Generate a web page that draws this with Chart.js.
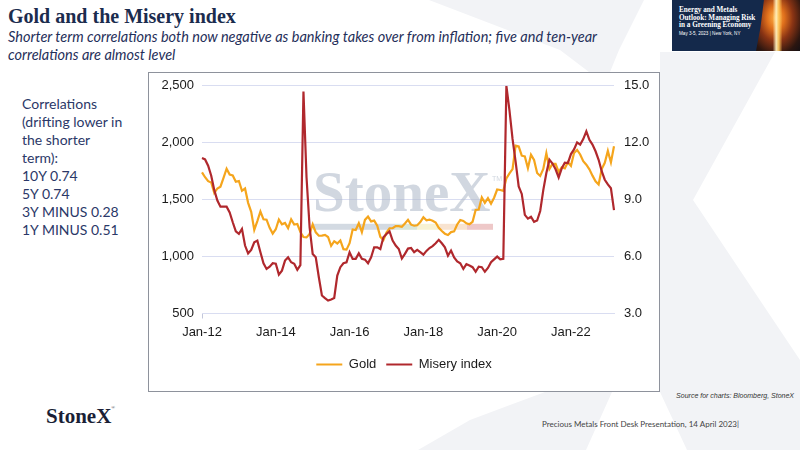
<!DOCTYPE html>
<html><head><meta charset="utf-8">
<script src="https://cdn.jsdelivr.net/npm/chart.js@4.4.0/dist/chart.umd.min.js"></script>
<style>
html,body{margin:0;padding:0;width:800px;height:450px;overflow:hidden;background:#fff;}
#slide{position:relative;width:800px;height:450px;overflow:hidden;}
#bgx{position:absolute;left:0;top:0;}
.abs{position:absolute;white-space:nowrap;}
#title{left:8px;top:5px;font-family:"Liberation Serif",serif;font-weight:bold;font-size:20px;color:#1b2c4e;}
#sub{left:8px;top:28px;font-family:Lato,"Open Sans",sans-serif;font-style:italic;font-size:14.5px;line-height:18px;color:#1f2f5a;white-space:normal;width:640px;}
#corr{left:22px;top:95px;font-family:Lato,"Open Sans",sans-serif;font-size:14px;line-height:18px;color:#2b3868;}
#box{position:absolute;left:148px;top:72px;width:510px;height:318px;border:1px solid #8e929c;background:#fff;}
#c{position:absolute;left:0;top:-5px;}
#navy{position:absolute;left:672px;top:0;width:128px;height:51px;background:#14294b;overflow:hidden;}
#navy .t{position:absolute;left:7px;font-family:"Liberation Serif",serif;font-weight:bold;color:#fff;font-size:7.2px;white-space:nowrap;}
#fire{position:absolute;left:84px;top:0;width:44px;height:51px;
  background:
    linear-gradient(90deg, rgba(255,236,170,0) 0%, rgba(255,236,170,0) 38%, rgba(255,240,190,0.95) 46%, rgba(255,200,90,0.9) 52%, rgba(255,236,170,0) 60%),
    radial-gradient(ellipse at 45% 35%, #ffb347 0%, #e0701c 25%, #8a3414 50%, #2c1610 80%, #141014 100%);
  clip-path: polygon(18% 0, 100% 0, 100% 100%, 0 100%, 10% 55%);}
#logo{left:46px;top:404px;font-family:"Liberation Serif",serif;font-weight:bold;font-size:21px;color:#1a1f36;}
#logo sup{font-size:5px;font-weight:normal;vertical-align:14px;}
#src{right:6px;top:392px;font-family:"Liberation Sans",Arial,sans-serif;font-style:italic;font-size:7px;color:#333;}
#foot{left:542px;top:419px;font-family:Lato,"Open Sans",sans-serif;font-size:8px;color:#444;}
</style></head>
<body>
<div id="slide">
<svg id="bgx" width="800" height="450">
  <g fill="#f2f3f6">
    <polygon points="429,0 644,0 619,50 610,72 589,72 560,50"/>
    <polygon points="660,52 775,52 693,200 800,360 800,450 687,450 660,392"/>
    <polygon points="418,450 586,450 612,392 545,392 470,420"/>
  </g>
</svg>
<div id="title" class="abs">Gold and the Misery index</div>
<div id="sub" class="abs">Shorter term correlations both now negative as banking takes over from inflation; five and ten-year correlations are almost level</div>
<div id="corr" class="abs">Correlations<br>(drifting lower in<br>the shorter<br>term):<br>10Y 0.74<br>5Y 0.74<br>3Y MINUS 0.28<br>1Y MINUS 0.51</div>
<div id="box"><canvas id="c" width="510" height="323"></canvas></div>
<div id="navy">
  <div class="t" style="top:6px">Energy and Metals</div>
  <div class="t" style="top:13.5px">Outlook: Managing Risk</div>
  <div class="t" style="top:21px">in a Greening Economy</div>
  <div class="t" style="top:31px;font-size:4.6px;font-weight:normal;font-family:'Liberation Sans',sans-serif">May 3-5, 2023 | New York, NY</div>
  <div id="fire"></div>
</div>
<div id="logo" class="abs">StoneX<sup>®</sup></div>
<div id="src" class="abs">Source for charts: Bloomberg, StoneX</div>
<div id="foot" class="abs">Precious Metals Front Desk Presentation, 14 April 2023|</div>
</div>
<script>
// ---- data (monthly, Jan-12 .. Mar-23) ----
const startYear = 2012;
const monthNames = ['Jan','Feb','Mar','Apr','May','Jun','Jul','Aug','Sep','Oct','Nov','Dec'];
const goldPrice = [
  1740,1697,1662,1651,1558,1598,1614,1692,1772,1720,1712,1657,
  1664,1578,1598,1472,1393,1235,1312,1396,1327,1324,1253,1202,
  1240,1326,1284,1296,1250,1327,1282,1286,1216,1172,1168,1199,
  1284,1213,1183,1184,1190,1172,1095,1135,1115,1142,1065,1061,
  1118,1238,1233,1293,1215,1322,1351,1309,1316,1272,1173,1146,
  1211,1249,1249,1268,1268,1262,1290,1322,1280,1271,1275,1303,
  1345,1318,1325,1315,1299,1253,1224,1201,1190,1215,1221,1282,
  1321,1313,1292,1284,1305,1409,1413,1520,1472,1513,1464,1517,
  1589,1585,1577,1687,1730,1768,1975,1968,1886,1879,1776,1895,
  1848,1734,1708,1769,1907,1770,1814,1814,1743,1784,1775,1829,
  1797,1909,1937,1897,1838,1807,1766,1711,1661,1633,1768,1824,
  1928,1827,1969
];
const miseryIndex = [
  11.19,11.12,10.79,10.26,9.50,8.95,8.63,8.63,8.63,8.33,7.81,7.33,
  7.20,7.46,6.58,6.17,6.35,6.75,6.84,6.23,5.65,5.35,5.47,5.65,
  5.62,5.05,5.26,5.79,5.96,5.70,5.62,5.30,5.55,14.70,10.17,7.54,
  6.14,5.96,4.91,3.95,3.81,3.68,3.74,3.82,5.00,5.44,5.65,5.70,
  6.23,5.88,5.88,6.17,5.88,5.84,5.65,5.96,6.49,6.49,6.40,7.02,
  7.19,7.33,6.84,6.58,6.40,5.90,6.14,6.42,6.45,6.23,6.35,6.23,
  6.10,6.30,6.45,6.55,6.70,6.88,6.70,6.49,6.05,6.32,5.96,5.75,
  5.65,5.35,5.60,5.53,5.44,5.20,5.47,5.44,5.20,5.40,5.70,5.85,
  6.00,5.85,5.88,15.00,13.70,12.20,11.00,9.70,9.30,8.20,8.00,8.10,
  7.83,7.90,8.40,9.50,10.40,11.10,10.90,10.60,10.17,10.65,10.95,10.93,
  11.40,11.65,12.02,11.90,12.19,12.60,12.15,11.90,11.55,11.10,10.50,10.05,
  9.80,9.60,8.45
];
const labels = goldPrice.map((_, i) =>
  monthNames[i % 12] + '-' + String((startYear + Math.floor(i / 12)) % 100).padStart(2, '0'));
const goldTicks = [500, 1000, 1500, 2000, 2500];
const miseryTicks = [3, 6, 9, 12, 15];

const GOLD = '#f5a51c', RED = '#b0282d', GRID = '#d9ddf1';
const axisFont = {family: '"Liberation Sans", Arial, sans-serif', size: 13};

const watermark = {
  id: 'wm',
  beforeDatasetsDraw(chart) {
    const {ctx, chartArea: a} = chart;
    ctx.save();
    const x0 = a.left + 111, base = a.top + 125;
    ctx.font = 'bold 57px "Liberation Serif", serif';
    ctx.fillStyle = 'rgba(178,189,204,0.6)';
    ctx.textBaseline = 'alphabetic';
    ctx.fillText('StoneX', x0, base);
    ctx.font = '7px "Liberation Sans", sans-serif';
    ctx.fillText('TM', x0 + 179, base - 30);
    const segs = [[0, 82, 'rgba(196,206,216,0.75)'], [82, 104, 'rgba(206,222,204,0.75)'],
      [104, 127, 'rgba(244,238,196,0.75)'], [127, 154, 'rgba(246,218,192,0.75)'], [154, 180, 'rgba(232,182,182,0.75)']];
    segs.forEach(s => { ctx.fillStyle = s[2]; ctx.fillRect(x0 + s[0], base + 13, s[1] - s[0], 6); });
    ctx.restore();
  }
};

new Chart(document.getElementById('c'), {
  type: 'line',
  data: {
    labels,
    datasets: [
      {label: 'Gold', data: goldPrice, borderColor: GOLD, backgroundColor: GOLD, borderWidth: 2.2,
       pointRadius: 0, tension: 0, yAxisID: 'y', order: 1},
      {label: 'Misery index', data: miseryIndex, borderColor: RED, backgroundColor: RED, borderWidth: 2.2,
       pointRadius: 0, tension: 0, yAxisID: 'y1', order: 0}
    ]
  },
  options: {
    responsive: false, animation: false,
    layout: {padding: {top: 7, bottom: 10, left: 0, right: 0}},
    plugins: {
      tooltip: {enabled: false},
      legend: {
        position: 'bottom',
        labels: {
          boxWidth: 26, boxHeight: 2, padding: 10, color: '#1a1a1a', font: axisFont,
          sort: (a, b) => a.datasetIndex - b.datasetIndex,
          generateLabels: (chart) => Chart.defaults.plugins.legend.labels.generateLabels(chart)
            .map(l => Object.assign(l, {lineWidth: 0, fillStyle: l.strokeStyle}))
        }
      }
    },
    scales: {
      x: {
        type: 'category', offset: false,
        grid: {drawOnChartArea: false, drawTicks: true, tickLength: 5,
               color: c => (c.index % 24 === 0 ? '#c3c7da' : 'rgba(0,0,0,0)')},
        border: {display: true, color: GRID},
        ticks: {autoSkip: false, maxRotation: 0, padding: 6, font: axisFont, color: '#1a1a1a',
                callback: (v, i) => (i % 24 === 0 ? labels[i] : null)},
        afterFit: s => { s.height = 34.5; }
      },
      y: {
        position: 'left', min: goldTicks[0], max: goldTicks[goldTicks.length - 1],
        afterBuildTicks: s => { s.ticks = goldTicks.map(v => ({value: v})); },
        ticks: {padding: 8, font: axisFont, color: '#1a1a1a', callback: v => v.toLocaleString('en-US')},
        grid: {color: GRID, drawTicks: false, lineWidth: 1},
        border: {display: false},
        afterFit: s => { s.width = 53; }
      },
      y1: {
        position: 'right', min: miseryTicks[0], max: miseryTicks[miseryTicks.length - 1],
        afterBuildTicks: s => { s.ticks = miseryTicks.map(v => ({value: v})); },
        ticks: {padding: 10, font: axisFont, color: '#1a1a1a', callback: v => v.toFixed(1)},
        grid: {drawOnChartArea: false, drawTicks: false},
        border: {display: false},
        afterFit: s => { s.width = 45; }
      }
    }
  },
  plugins: [watermark]
});
</script>
</body></html>
